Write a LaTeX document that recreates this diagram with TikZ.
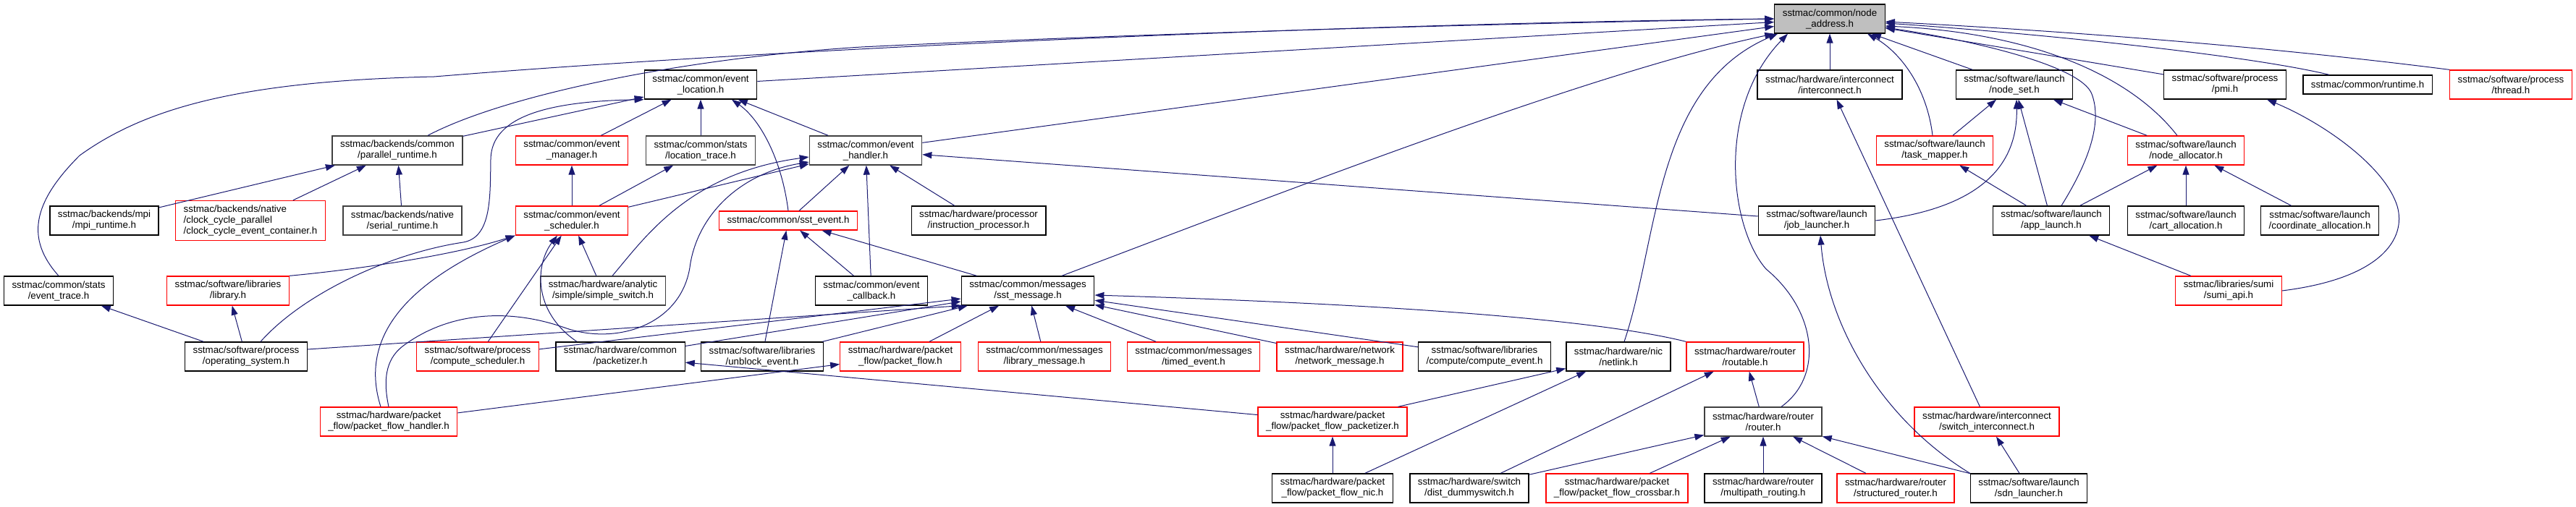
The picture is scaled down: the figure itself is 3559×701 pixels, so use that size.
\documentclass[tikz,border=0pt]{standalone}
\usepackage{fontspec}
\usepackage{tikz}
\usetikzlibrary{arrows.meta}
\newfontfamily\dotsans{Liberation Sans}
\newcommand{\dotfont}{\dotsans\fontsize{13.33}{15}\selectfont}
\definecolor{edgeblue}{RGB}{25,25,112}
\definecolor{rootgray}{RGB}{191,191,191}
\definecolor{boxgray}{RGB}{64,64,64}
\definecolor{cutred}{RGB}{255,0,0}
\begin{document}
\begin{tikzpicture}[x=1pt, y=-1pt, every node/.style={font=\dotfont},
  file/.style={draw=black, fill=white, line width=1.3pt, inner xsep=11pt, inner ysep=3pt, minimum height=40pt, align=center},
  greyfile/.style={file, draw=boxgray},
  trunc/.style={file, draw=cutred},
  root/.style={file, fill=rootgray},
  oneline/.style={minimum height=26pt},
  incl/.style={draw=edgeblue, line width=1pt, -{Triangle[length=13pt,width=9pt]}}]
  \useasboundingbox (0,0) rectangle (3559,701);
  % rank 0 and 1
  \node[root] (N) at (2528,26) {sstmac/common/node\\\_address.h};
  \node[file] (EL) at (968,117) {sstmac/common/event\\\_location.h};
  \node[file] (IC) at (2528,117) {sstmac/hardware/interconnect\\/interconnect.h};
  \node[file] (NS) at (2783,117) {sstmac/software/launch\\/node\_set.h};
  \node[file] (PMI) at (3074,117) {sstmac/software/process\\/pmi.h};
  \node[file, oneline] (RT) at (3271,117) {sstmac/common/runtime.h};
  \node[trunc] (TH) at (3469,117) {sstmac/software/process\\/thread.h};
  % rank 2
  \node[greyfile] (PR) at (549,208) {sstmac/backends/common\\/parallel\_runtime.h};
  \node[trunc] (EM) at (790,208) {sstmac/common/event\\\_manager.h};
  \node[greyfile] (LT) at (968,208) {sstmac/common/stats\\/location\_trace.h};
  \node[greyfile] (EH) at (1196,208) {sstmac/common/event\\\_handler.h};
  \node[trunc] (TM) at (2673,208) {sstmac/software/launch\\/task\_mapper.h};
  \node[trunc] (NA) at (3020,208) {sstmac/software/launch\\/node\_allocator.h};
  % rank 3
  \node[file] (MPI) at (144,305) {sstmac/backends/mpi\\/mpi\_runtime.h};
  \node[trunc, minimum height=55pt, align=left] (CC) at (346,305) {sstmac/backends/native\\/clock\_cycle\_parallel\\/clock\_cycle\_event\_container.h};
  \node[greyfile] (SR) at (556,305) {sstmac/backends/native\\/serial\_runtime.h};
  \node[trunc] (ES) at (790,305) {sstmac/common/event\\\_scheduler.h};
  \node[trunc, oneline] (SE) at (1089,305) {sstmac/common/sst\_event.h};
  \node[file] (IP) at (1352,305) {sstmac/hardware/processor\\/instruction\_processor.h};
  \node[file] (JL) at (2510,305) {sstmac/software/launch\\/job\_launcher.h};
  \node[file] (AL) at (2834,305) {sstmac/software/launch\\/app\_launch.h};
  \node[file] (CA) at (3020,305) {sstmac/software/launch\\/cart\_allocation.h};
  \node[file] (CO) at (3205,305) {sstmac/software/launch\\/coordinate\_allocation.h};
  % rank 4
  \node[file] (ET) at (81,402) {sstmac/common/stats\\/event\_trace.h};
  \node[trunc] (LIB) at (315,402) {sstmac/software/libraries\\/library.h};
  \node[greyfile] (SS) at (833,402) {sstmac/hardware/analytic\\/simple/simple\_switch.h};
  \node[file] (ECB) at (1204,402) {sstmac/common/event\\\_callback.h};
  \node[file] (SM) at (1420,402) {sstmac/common/messages\\/sst\_message.h};
  \node[trunc] (SA) at (3079,402) {sstmac/libraries/sumi\\/sumi\_api.h};
  % rank 5
  \node[file] (OS) at (340,493) {sstmac/software/process\\/operating\_system.h};
  \node[trunc] (CS) at (660,493) {sstmac/software/process\\/compute\_scheduler.h};
  \node[file] (PK) at (857,493) {sstmac/hardware/common\\/packetizer.h};
  \node[file] (UE) at (1053,493) {sstmac/software/libraries\\/unblock\_event.h};
  \node[trunc] (PF) at (1244,493) {sstmac/hardware/packet\\\_flow/packet\_flow.h};
  \node[trunc] (LM) at (1443,493) {sstmac/common/messages\\/library\_message.h};
  \node[trunc] (TE) at (1649,493) {sstmac/common/messages\\/timed\_event.h};
  \node[trunc] (NM) at (1851,493) {sstmac/hardware/network\\/network\_message.h};
  \node[file] (CE) at (2051,493) {sstmac/software/libraries\\/compute/compute\_event.h};
  \node[file] (NL) at (2236,493) {sstmac/hardware/nic\\/netlink.h};
  \node[trunc] (RB) at (2411,493) {sstmac/hardware/router\\/routable.h};
  % rank 6
  \node[trunc] (PFH) at (537,583) {sstmac/hardware/packet\\\_flow/packet\_flow\_handler.h};
  \node[trunc] (PFP) at (1841,583) {sstmac/hardware/packet\\\_flow/packet\_flow\_packetizer.h};
  \node[greyfile] (RO) at (2436,583) {sstmac/hardware/router\\/router.h};
  \node[trunc] (SI) at (2745,583) {sstmac/hardware/interconnect\\/switch\_interconnect.h};
  % rank 7
  \node[file] (PFN) at (1841,675) {sstmac/hardware/packet\\\_flow/packet\_flow\_nic.h};
  \node[file] (DD) at (2030,675) {sstmac/hardware/switch\\/dist\_dummyswitch.h};
  \node[trunc] (PFC) at (2234,675) {sstmac/hardware/packet\\\_flow/packet\_flow\_crossbar.h};
  \node[file] (MR) at (2436,675) {sstmac/hardware/router\\/multipath\_routing.h};
  \node[trunc] (STR) at (2619,675) {sstmac/hardware/router\\/structured\_router.h};
  \node[file] (SDN) at (2803,675) {sstmac/software/launch\\/sdn\_launcher.h};

  % straight includes
  \foreach \a/\b in {EL/N, EH/N, IC/N, NS/N, PMI/N, PR/EL, EM/EL, LT/EL, EH/EL,
      MPI/PR, CC/PR, SR/PR, ES/EH, ECB/EH, IP/EH, JL/EH, SE/EH, CS/ES, SS/ES,
      ES/EM, ES/LT, ECB/SE, UE/SE, SM/SE, CS/SM, PK/SM, UE/SM, PF/SM, LM/SM,
      TE/SM, NM/SM, CE/SM, PFH/PF, PFP/PK, PFP/NL, PFN/NL, PFN/PFP, RO/RB,
      DD/RB, DD/RO, PFC/RO, MR/RO, STR/RO, SDN/RO, SDN/SI, SI/IC, TM/NS,
      AL/NS, NA/NS, AL/TM, AL/NA, CA/NA, CO/NA, SA/AL, OS/LIB, OS/ET}
    \draw[incl] (\a) -- (\b);

  % curved includes
  \draw[incl] (ET.north) .. controls (35,330) and (45,280) .. (110,215)
    .. controls (200,150) and (330,112) .. (600,106)
    .. controls (1100,65) and (1900,32) .. (N.west);
  \draw[incl] ([xshift=42pt]PR.north) .. controls (700,130) and (950,80) .. (1190,65)
    .. controls (1600,45) and (2100,32) .. (N.west);
  \draw[incl] ([xshift=47pt]SM.north) .. controls (1800,255) and (2200,100) .. (N.south west);
  \draw[incl] ([xshift=8pt]NL.north) .. controls (2292,330) and (2285,120) .. ([xshift=5pt]N.south west);
  \draw[incl] ([xshift=25pt]RO.north) .. controls (2520,520) and (2510,430) .. (2440,372)
    .. controls (2390,315) and (2370,150) .. ([xshift=-58pt]N.south);
  \draw[incl] ([xshift=-3pt]TM.north) .. controls (2662,120) and (2625,72) .. ([xshift=52pt]N.south);
  \draw[incl] ([xshift=14pt]AL.north) .. controls (2885,225) and (2905,170) .. (2890,130)
    .. controls (2875,90) and (2720,55) .. ([yshift=-12pt]N.east);
  \draw[incl] ([xshift=-12pt]NA.north) .. controls (2940,100) and (2800,45) .. ([yshift=-10pt]N.east);
  \draw[incl] ([xshift=-53pt]RT.north) .. controls (3100,75) and (2800,45) .. ([yshift=-6pt]N.east);
  \draw[incl] (TH.north west) .. controls (3100,60) and (2800,40) .. ([yshift=-4pt]N.east);
  \draw[incl] ([xshift=20pt]OS.north) .. controls (420,405) and (540,350) .. (640,335)
    .. controls (680,328) and (677,270) .. (678,220)
    .. controls (679,160) and (760,140) .. (EL.south west);
  \draw[incl] (SE.north) .. controls (1080,220) and (1050,165) .. ([xshift=43pt]EL.south);
  \draw[incl] ([xshift=13pt]SS.north) .. controls (890,330) and (950,240) .. ([yshift=-9pt]EH.west);
  \draw[incl] (PFH.north) .. controls (528,520) and (535,493) .. (560,476)
    .. controls (620,433) and (700,425) .. (780,453)
    .. controls (850,478) and (940,450) .. (953,370)
    .. controls (962,300) and (1020,240) .. ([yshift=-16pt]EH.west);
  \draw[incl] (LIB.north east) .. controls (500,372) and (630,352) .. (ES.south west);
  \draw[incl] ([xshift=-11pt]PFH.north) .. controls (500,480) and (540,400) .. (ES.south west);
  \draw[incl] ([xshift=-60pt]PK.north) .. controls (735,430) and (740,365) .. ([xshift=-20pt]ES.south);
  \draw[incl] ([yshift=10pt]OS.east) -- (SM.south west);
  \draw[incl] (RB.north west) .. controls (2200,440) and (1900,420) .. ([yshift=-6pt]SM.east);
  \draw[incl] (SDN.north west) .. controls (2600,580) and (2525,450) .. ([xshift=5pt]JL.south);
  \draw[incl] (JL.east) .. controls (2720,290) and (2788,240) .. ([xshift=3pt]NS.south);
  \draw[incl] (SA.east) .. controls (3290,385) and (3325,330) .. (3312,285)
    .. controls (3295,230) and (3210,170) .. ([xshift=58pt]PMI.south);
\end{tikzpicture}
\end{document}
